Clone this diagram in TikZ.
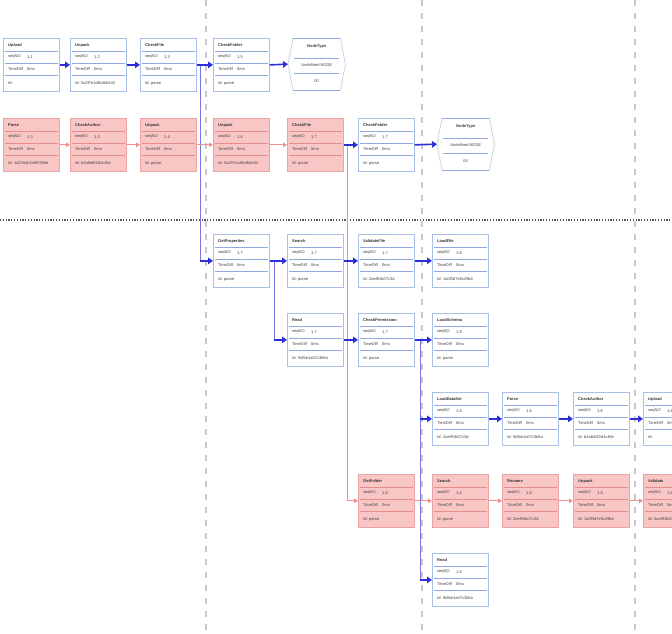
\documentclass[tikz,border=0pt]{standalone}
\usepackage{fontspec}
\setmainfont{Liberation Sans}
\usetikzlibrary{calc,arrows.meta}
\definecolor{bbord}{HTML}{A9BFE6}
\definecolor{bsep}{HTML}{8FA9DF}
\definecolor{pfill}{HTML}{F9C6C6}
\definecolor{pbord}{HTML}{E9A3A3}
\definecolor{psep}{HTML}{E58C8C}
\definecolor{barr}{HTML}{2E2ED8}
\definecolor{parr}{HTML}{EE8F8F}
\definecolor{bvl}{HTML}{7676E2}
\definecolor{gdash}{HTML}{C8C8C8}
\definecolor{hside}{HTML}{C9CED8}
\tikzset{
 bluebox/.style={draw=bbord, fill=white, line width=0.7pt, minimum width=56pt, minimum height=53pt, inner sep=0pt, anchor=north west},
 pinkbox/.style={draw=pbord, fill=pfill, line width=0.7pt, minimum width=56pt, minimum height=53pt, inner sep=0pt, anchor=north west},
 bluesep/.style={draw=bsep, line width=0.6pt},
 pinksep/.style={draw=psep, line width=0.6pt},
 txt/.style={font=\fontsize{4}{4.5}\selectfont, inner sep=0pt, anchor=west, text=black!75},
 ttl/.style={font=\fontsize{4}{4.5}\selectfont\bfseries, inner sep=0pt, anchor=west, text=black!80},
 htxt/.style={font=\fontsize{4}{4.5}\selectfont, inner sep=0pt, text=black!75},
 barrow/.style={draw=barr, line width=1.6pt, -{Triangle[length=5pt,width=6.5pt]}},
 parrow/.style={draw=parr, line width=1.1pt, -{Triangle[length=4pt,width=4.5pt]}},
 bvert/.style={draw=bvl, line width=0.9pt},
 pvert/.style={draw=parr, line width=0.9pt},
 gdashed/.style={draw=gdash, line width=2.2pt, dash pattern=on 6pt off 7pt},
 hdotted/.style={draw=black!65, line width=1.3pt, dash pattern=on 1.2pt off 1.6pt},
 hexside/.style={draw=hside, line width=0.7pt},
 hexedge/.style={draw=bsep, line width=0.8pt},
}
% name, kind, x, y, title, seq, time, id
\newcommand\ibox[8]{%
 \node[#2box] (#1) at (#3,-#4) {};
 \draw[#2sep] ($(#1.north west)+(2,-13)$) -- ($(#1.north east)+(-2,-13)$);
 \draw[#2sep] ($(#1.north west)+(2,-25)$) -- ($(#1.north east)+(-2,-25)$);
 \draw[#2sep] ($(#1.north west)+(2,-37)$) -- ($(#1.north east)+(-2,-37)$);
 \node[ttl] (#1t) at ($(#1.north west)+(5,-7)$) {#5};
 \node[txt] (#1s) at ($(#1.north west)+(5,-19)$) {seqNO};
 \node[txt] (#1v) at ($(#1.north west)+(24,-19)$) {#6};
 \node[txt] (#1m) at ($(#1.north west)+(5,-31)$) {TimeDiff};
 \node[txt] (#1d) at ($(#1.north west)+(24,-31)$) {#7};
 \node[txt] (#1i) at ($(#1.north west)+(5,-45)$) {Id: #8};
}
% name, x, y
\newcommand\hexbox[3]{%
 \node[minimum width=57pt, minimum height=52pt, inner sep=0pt, anchor=north west] (#1) at (#2,-#3) {};
 \fill[white] (#1.west) -- ($(#1.north west)+(5,0)$) -- ($(#1.north east)+(-5,0)$) -- (#1.east) -- ($(#1.south east)+(-5,0)$) -- ($(#1.south west)+(5,0)$) -- cycle;
 \draw[hexside] ($(#1.north west)+(5,0)$) -- (#1.west) -- ($(#1.south west)+(5,0)$);
 \draw[hexside] ($(#1.north east)+(-5,0)$) -- (#1.east) -- ($(#1.south east)+(-5,0)$);
 \draw[hexedge] ($(#1.north west)+(5,0)$) -- ($(#1.north east)+(-5,0)$);
 \draw[hexedge] ($(#1.south west)+(5,0)$) -- ($(#1.south east)+(-5,0)$);
 \draw[bluesep] ($(#1.north west)+(6,-20)$) -- ($(#1.north east)+(-6,-20)$);
 \draw[bluesep] ($(#1.north west)+(6,-35)$) -- ($(#1.north east)+(-6,-35)$);
 \node[htxt,font=\fontsize{4}{4.5}\selectfont\bfseries] (#1t) at ($(#1.north)+(0,-8)$) {NodeType};
 \node[htxt] (#1u) at ($(#1.north)+(0,-27.5)$) {Undefined NODE};
 \node[htxt] (#1z) at ($(#1.north)+(0,-43)$) {00};
}
\begin{document}
\begin{tikzpicture}[x=1pt,y=1pt]
\useasboundingbox (0,0) rectangle (672,-634);
\fill[white] (0,0) rectangle (672,-634);
% guides
\coordinate (v1t) at (206,0); \coordinate (v1b) at (206,-634);
\coordinate (v2t) at (422,0); \coordinate (v2b) at (422,-634);
\coordinate (v3t) at (635,0); \coordinate (v3b) at (635,-634);
\draw[gdashed] (v1t) -- (v1b);
\draw[gdashed] (v2t) -- (v2b);
\draw[gdashed] (v3t) -- (v3b);
\coordinate (hl) at (0,-220); \coordinate (hr) at (672,-220);
\draw[hdotted] (hl) -- (hr);
% row 1
\ibox{a1}{blue}{3}{38}{Upload}{1.1}{0ms}{}
\ibox{a2}{blue}{70}{38}{Unpack}{1.2}{0ms}{5a2f7e1d9c4b0e32}
\ibox{a3}{blue}{140}{38}{CheckFile}{1.3}{0ms}{parse}
\ibox{a4}{blue}{213}{38}{CheckFolder}{1.5}{0ms}{parse}
\hexbox{h1}{288}{38}
% row 2
\ibox{p1}{pink}{3}{118}{Parse}{1.0}{0ms}{1d27e4c3a9f07b5e}
\ibox{p2}{pink}{70}{118}{CheckAuthor}{1.2}{0ms}{b3a6e0f2d1c49e}
\ibox{p3}{pink}{140}{118}{Unpack}{1.4}{0ms}{parse}
\ibox{p4}{pink}{213}{118}{Unpack}{1.6}{0ms}{5a2f7e1d9c4b0e32}
\ibox{p5}{pink}{287}{118}{CheckFile}{1.7}{0ms}{parse}
\ibox{b2}{blue}{358}{118}{CheckFolder}{1.7}{0ms}{parse}
\hexbox{h2}{437}{118}
% row 3
\ibox{c1}{blue}{213}{234}{GetProperties}{1.7}{0ms}{parse}
\ibox{c2}{blue}{287}{234}{Search}{1.7}{0ms}{parse}
\ibox{c3}{blue}{358}{234}{ValidateFile}{1.7}{0ms}{2ae9f1b07c3d}
\ibox{c4}{blue}{432}{234}{LoadFile}{1.8}{0ms}{1a0f3d7e5c29b4}
% row 4
\ibox{d1}{blue}{287}{313}{Read}{1.7}{0ms}{9df4e1a07c3b5a}
\ibox{d2}{blue}{358}{313}{CheckPermission}{1.7}{0ms}{parse}
\ibox{d3}{blue}{432}{313}{LoadSchema}{1.8}{0ms}{parse}
% row 5
\ibox{e1}{blue}{432}{392}{LoadDataSet}{1.6}{0ms}{2ae9f1b07c3d}
\ibox{e2}{blue}{502}{392}{Parse}{1.6}{0ms}{9df4e1a07c3b5a}
\ibox{e3}{blue}{573}{392}{CheckAuthor}{1.6}{0ms}{b3a6e0f2d1c49e}
\ibox{e4}{blue}{643}{392}{Upload}{1.6}{0ms}{}
% row 6
\ibox{f1}{pink}{358}{474}{GetFolder}{1.6}{0ms}{parse}
\ibox{f2}{pink}{432}{474}{Search}{1.6}{0ms}{parse}
\ibox{f3}{pink}{502}{474}{Rename}{1.6}{0ms}{2ae9f1b07c3d}
\ibox{f4}{pink}{573}{474}{Unpack}{1.6}{0ms}{1a0f3d7e5c29b4}
\ibox{f5}{pink}{643}{474}{Validate}{1.6}{0ms}{2ae9f1b07c3d}
% row 7
\ibox{g1}{blue}{432}{553}{Read}{1.6}{0ms}{9df4e1a07c3b5a}
% branch points
\coordinate (j1) at (200,0 |- a3.east);
\coordinate (j1b) at (j1 |- c1.west);
\coordinate (j2) at (347,0 |- p5.east);
\coordinate (j2b) at (j2 |- f1.west);
\coordinate (j3) at (274,0 |- c1.east);
\coordinate (j3b) at (j3 |- d1.west);
\coordinate (j4) at (420,0 |- d2.east);
\coordinate (j4b) at (j4 |- e1.west);
\coordinate (j4c) at (j4 |- g1.west);
\draw[bvert] (j1) -- (j1b);
\draw[pvert] (j2) -- (j2b);
\draw[bvert] (j3) -- (j3b);
\draw[bvert] (j4) -- (j4c);
% arrows row 1
\draw[barrow] (a1.east) -- (a2.west);
\draw[barrow] (a2.east) -- (a3.west);
\draw[barrow] (a3.east) -- (a4.west);
\draw[barrow] (a4.east) -- (h1.west);
% row 2
\draw[parrow] (p1.east) -- (p2.west);
\draw[parrow] (p2.east) -- (p3.west);
\draw[parrow] (p3.east) -- (p4.west);
\draw[parrow] (p4.east) -- (p5.west);
\draw[barrow] (p5.east) -- (b2.west);
\draw[barrow] (b2.east) -- (h2.west);
% row 3
\draw[barrow] (j1b) -- (c1.west);
\draw[barrow] (c1.east) -- (c2.west);
\draw[barrow] (c2.east) -- (c3.west);
\draw[barrow] (c3.east) -- (c4.west);
% row 4
\draw[barrow] (j3b) -- (d1.west);
\draw[barrow] (d1.east) -- (d2.west);
\draw[barrow] (d2.east) -- (d3.west);
% row 5
\draw[barrow] (j4b) -- (e1.west);
\draw[barrow] (e1.east) -- (e2.west);
\draw[barrow] (e2.east) -- (e3.west);
\draw[barrow] (e3.east) -- (e4.west);
% row 6
\draw[parrow] (j2b) -- (f1.west);
\draw[parrow] (f1.east) -- (f2.west);
\draw[parrow] (f2.east) -- (f3.west);
\draw[parrow] (f3.east) -- (f4.west);
\draw[parrow] (f4.east) -- (f5.west);
% row 7
\draw[barrow] (j4c) -- (g1.west);
\end{tikzpicture}
\end{document}
